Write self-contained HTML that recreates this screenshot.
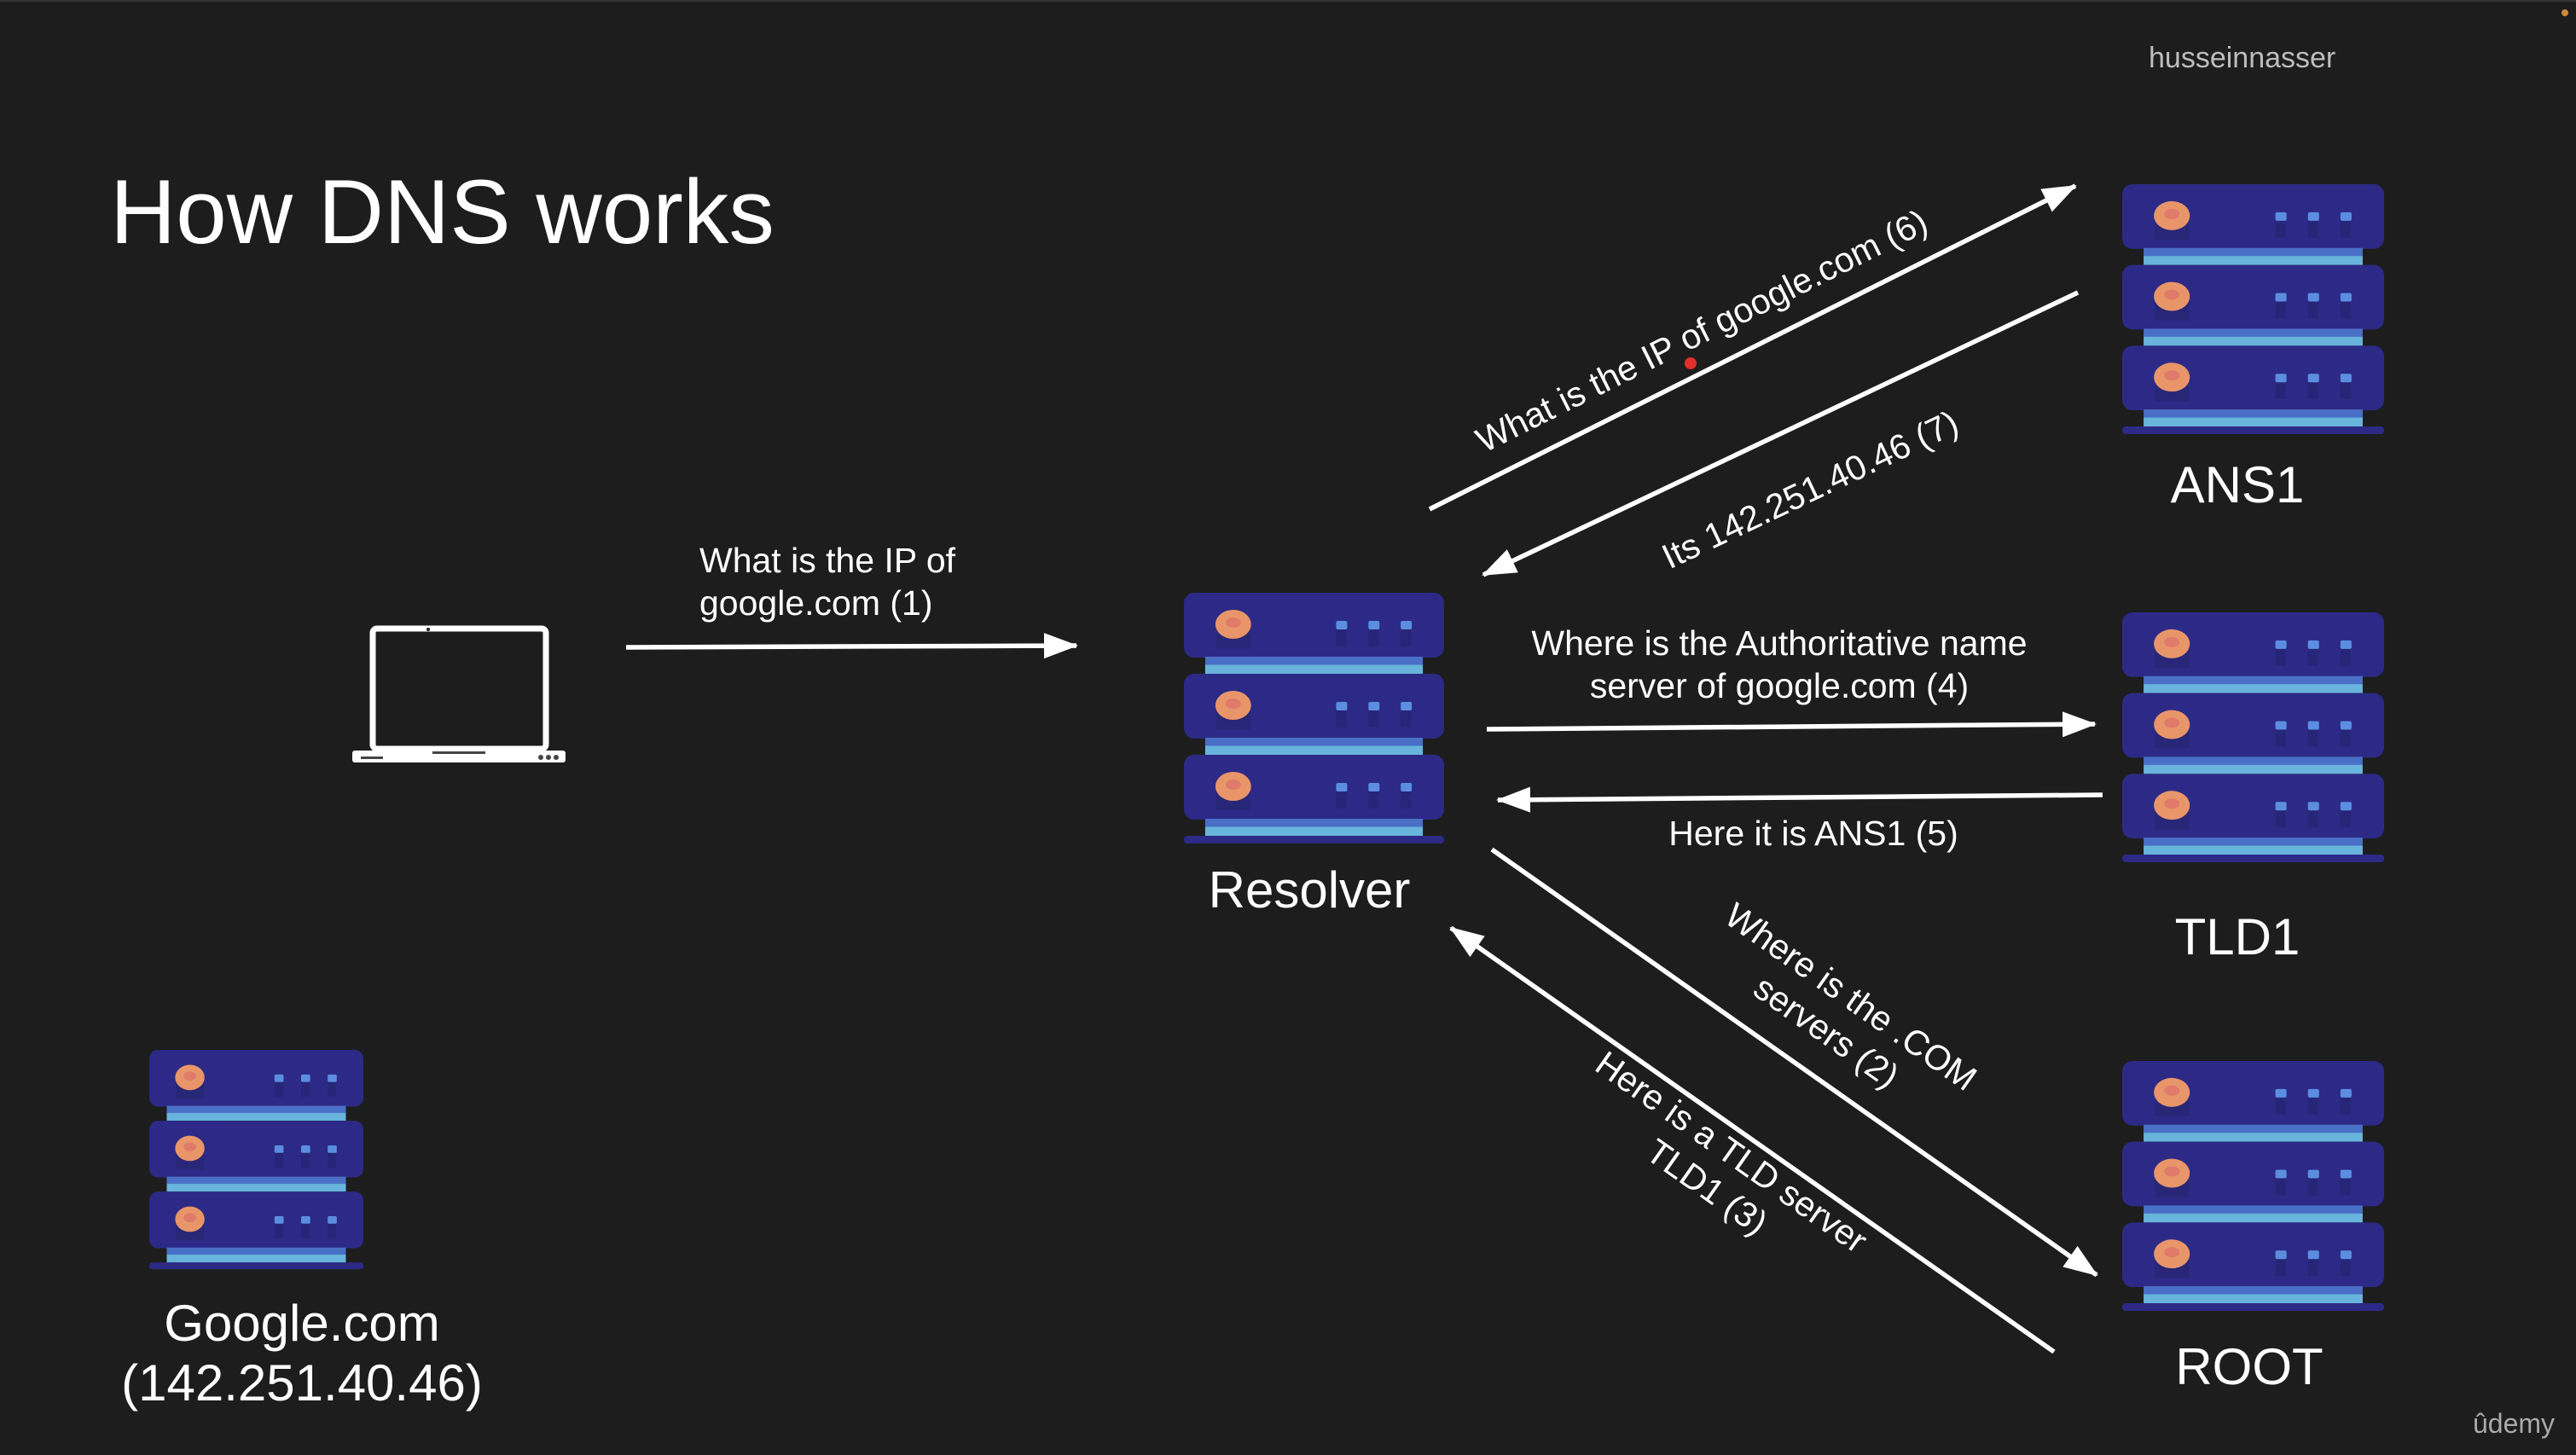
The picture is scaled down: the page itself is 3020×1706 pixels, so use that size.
<!DOCTYPE html>
<html><head><meta charset="utf-8"><style>
html,body{margin:0;padding:0;background:#1d1d1d;}
svg{display:block;}
text{font-family:"Liberation Sans",Arial,sans-serif;fill:#fff;}
</style></head><body>
<svg width="3020" height="1706" viewBox="0 0 3020 1706" xmlns="http://www.w3.org/2000/svg">
<defs>
<marker id="ah" markerWidth="40" markerHeight="30" refX="38" refY="15" orient="auto" markerUnits="userSpaceOnUse">
<path d="M0,0 L40,15 L0,30 Z" fill="#fff"/>
</marker>
<linearGradient id="sh" x1="0" y1="0" x2="0" y2="1">
<stop offset="0" stop-color="#4a6fc6"/><stop offset="0.45" stop-color="#4a6fc6"/><stop offset="0.5" stop-color="#68b4dc"/><stop offset="1" stop-color="#68b4dc"/>
</linearGradient>
<g id="row">
<rect x="7" y="5" width="306" height="76" rx="12" fill="#2c2a86"/>
<rect x="32" y="80" width="256" height="20" fill="url(#sh)"/>
<rect x="45" y="42" width="40" height="28" fill="#282676"/>
<ellipse cx="65" cy="42" rx="21" ry="17" fill="#e8956a"/>
<ellipse cx="65" cy="40" rx="9" ry="6" fill="#e07a6a"/>
<rect x="186" y="44" width="12" height="24" fill="#272578"/>
<rect x="224" y="44" width="12" height="24" fill="#272578"/>
<rect x="262" y="44" width="12" height="24" fill="#272578"/>
<rect x="186" y="38" width="13" height="10" rx="2" fill="#5b8ee0"/>
<rect x="224" y="38" width="13" height="10" rx="2" fill="#5b8ee0"/>
<rect x="262" y="38" width="13" height="10" rx="2" fill="#5b8ee0"/>
</g>
<symbol id="srv" viewBox="7 5 306 295" preserveAspectRatio="none">
<use href="#row"/>
<use href="#row" y="95"/>
<use href="#row" y="190"/>
<rect x="7" y="290" width="306" height="9" rx="4" fill="#2c2a86"/>
</symbol>
</defs>

<line x1="0" y1="1" x2="3020" y2="1" stroke="#333" stroke-width="2"/>
<circle cx="3007" cy="15" r="4" fill="#d08a3a"/>

<text x="129" y="285" font-size="107">How DNS works</text>
<text x="2519" y="79" font-size="34" style="fill:#bdbdbd">husseinnasser</text>
<text x="2947" y="1680" font-size="32" text-anchor="middle" style="fill:#aaa">ûdemy</text>

<use href="#srv" x="1388" y="695" width="305" height="295"/>
<use href="#srv" x="2488" y="216" width="307" height="294"/>
<use href="#srv" x="2488" y="718" width="307" height="294"/>
<use href="#srv" x="2488" y="1244" width="307" height="294"/>
<use href="#srv" x="175" y="1231" width="251" height="258"/>

<rect x="437" y="737" width="203" height="141" rx="5" fill="none" stroke="#fff" stroke-width="7"/>
<circle cx="502" cy="738" r="2" fill="#1d1d1d"/>
<rect x="413" y="880" width="250" height="14" rx="3" fill="#fff"/>
<rect x="507" y="881" width="62" height="3" fill="#444"/>
<rect x="423" y="887" width="26" height="3" fill="#444"/>
<circle cx="634" cy="888" r="3" fill="#444"/><circle cx="643" cy="888" r="3" fill="#444"/><circle cx="652" cy="888" r="3" fill="#444"/>

<g font-size="60">
<text x="1535" y="1064" text-anchor="middle">Resolver</text>
<text x="2623" y="589" text-anchor="middle">ANS1</text>
<text x="2623" y="1119" text-anchor="middle">TLD1</text>
<text x="2637" y="1623" text-anchor="middle">ROOT</text>
<text x="354" y="1572" text-anchor="middle">Google.com</text>
<text x="354" y="1642" text-anchor="middle">(142.251.40.46)</text>
</g>

<g stroke="#fff" stroke-width="5.5" fill="none">
<line x1="734" y1="759" x2="1262" y2="757" marker-end="url(#ah)"/>
<line x1="1743" y1="855" x2="2456" y2="849" marker-end="url(#ah)"/>
<line x1="2465" y1="932" x2="1756" y2="938" marker-end="url(#ah)"/>
<line x1="1676" y1="597" x2="2433" y2="218" marker-end="url(#ah)"/>
<line x1="2436" y1="343" x2="1739" y2="674" marker-end="url(#ah)"/>
<line x1="1749" y1="996" x2="2458" y2="1495" marker-end="url(#ah)"/>
<line x1="2408" y1="1585" x2="1701" y2="1088" marker-end="url(#ah)"/>
</g>
<circle cx="1982" cy="426" r="7" fill="#e0302a"/>

<g font-size="41">
<text x="820" y="671">What is the IP of</text>
<text x="820" y="721">google.com (1)</text>
<text x="2086" y="768" text-anchor="middle">Where is the Authoritative name</text>
<text x="2086" y="818" text-anchor="middle">server of google.com (4)</text>
<text x="2126" y="991" text-anchor="middle">Here it is ANS1 (5)</text>
<text transform="translate(1995,388) rotate(-26.6)" text-anchor="middle" y="14">What is the IP of google.com (6)</text>
<text transform="translate(2122,574) rotate(-25.4)" text-anchor="middle" y="14">Its 142.251.40.46 (7)</text>
<text transform="translate(2155,1190) rotate(35.1)" text-anchor="middle"><tspan x="0" y="-12">Where is the .COM</tspan><tspan x="0" y="38">servers (2)</tspan></text>
<text transform="translate(2015,1372) rotate(35.1)" text-anchor="middle"><tspan x="0" y="-12">Here is a TLD server</tspan><tspan x="0" y="38">TLD1 (3)</tspan></text>
</g>
</svg>
</body></html>
